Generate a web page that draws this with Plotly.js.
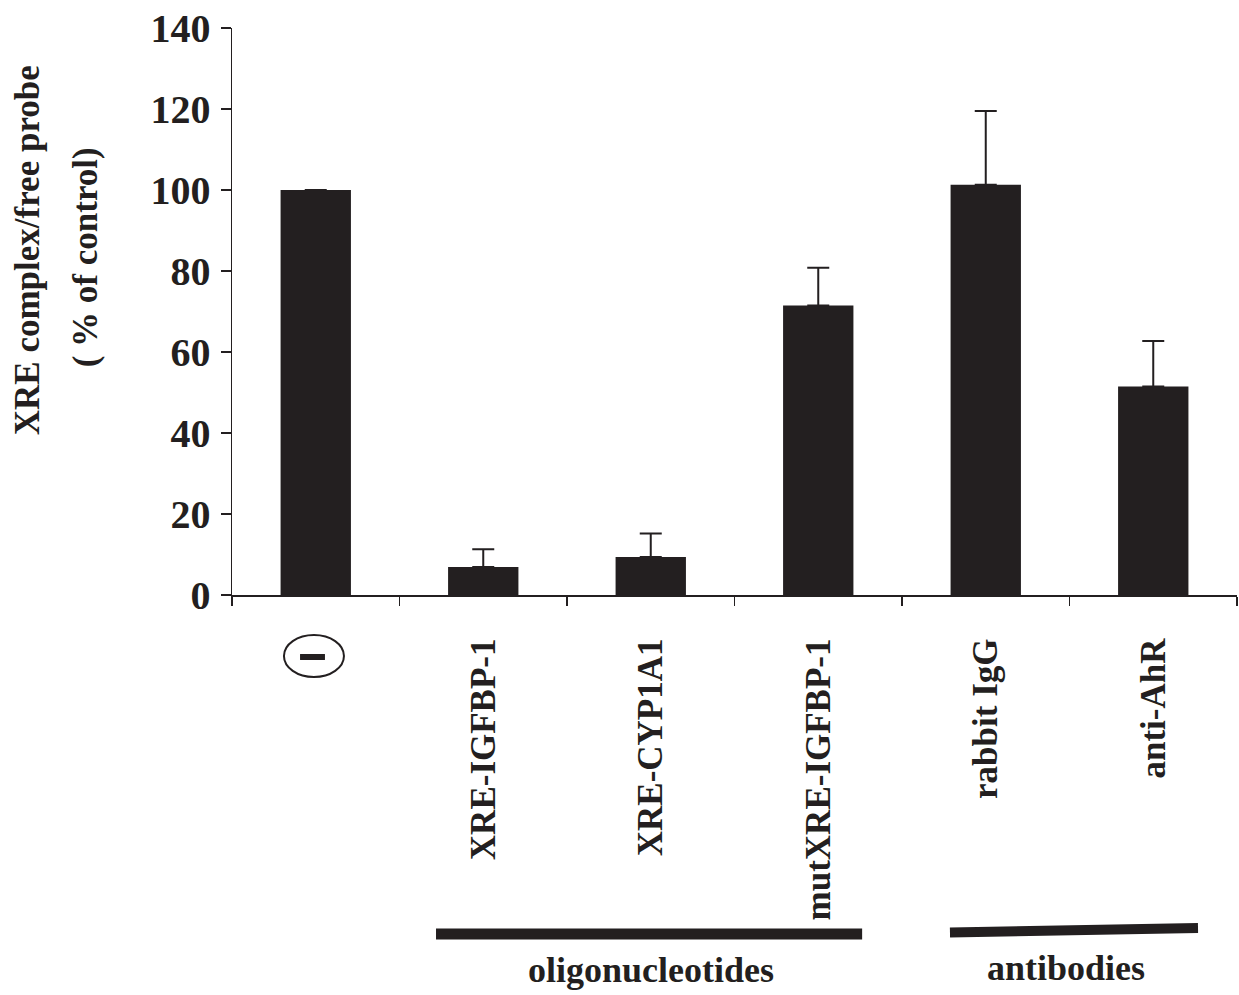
<!DOCTYPE html>
<html>
<head>
<meta charset="utf-8">
<script src="https://cdn.plot.ly/plotly-3.0.1.min.js"></script>
<style>
html,body{margin:0;padding:0;background:#fff;}
#chart{width:1239px;height:995px;}
</style>
</head>
<body>
<div id="chart"></div>
<script>
var categories = ["none", "XRE-IGFBP-1", "XRE-CYP1A1", "mutXRE-IGFBP-1", "rabbit IgG", "anti-AhR"];
var tickLabels = ["", "XRE-IGFBP-1", "XRE-CYP1A1", "mutXRE-IGFBP-1", "rabbit IgG", "anti-AhR"];
var values = [100, 6.9, 9.4, 71.5, 101.3, 51.5];
var errorsPlus = [0, 4.4, 5.8, 9.3, 18.2, 11.2];
var errorsMinus = [0, 0, 0, 0, 0, 0];
var yTicks = [0, 20, 40, 60, 80, 100, 120, 140];
var yTitleLines = ["XRE complex/free probe", "( % of control)"];
var groupLabels = ["oligonucleotides", "antibodies"];

var INK = "#231f20";
var FONT = "Liberation Serif, Times New Roman, serif";

var trace = {
  type: "bar",
  x: categories,
  y: values,
  marker: {color: INK, line: {width: 0}},
  error_y: {
    type: "data",
    symmetric: false,
    array: errorsPlus,
    arrayminus: errorsMinus,
    color: INK,
    thickness: 2,
    width: 11
  },
  hoverinfo: "skip"
};

var layout = {
  width: 1239,
  height: 995,
  margin: {l: 232, r: 2, t: 28, b: 400},
  paper_bgcolor: "#ffffff",
  plot_bgcolor: "#ffffff",
  showlegend: false,
  bargap: 0.58,
  font: {family: FONT, color: INK},
  xaxis: {
    type: "category",
    tickmode: "array",
    tickvals: categories,
    ticktext: tickLabels,
    tickangle: -90,
    tickson: "boundaries",
    ticks: "outside",
    ticklen: 9,
    tickwidth: 1.2,
    tickcolor: INK,
    ticklabelstandoff: 28,
    tickfont: {family: FONT, size: 35, color: INK, weight: "bold"},
    showline: true,
    linecolor: INK,
    linewidth: 1.5,
    showgrid: false,
    zeroline: false,
    fixedrange: true
  },
  yaxis: {
    range: [0, 140],
    tickmode: "array",
    tickvals: yTicks,
    ticktext: yTicks.map(String),
    ticks: "outside",
    ticklen: 10,
    tickwidth: 1.2,
    tickcolor: INK,
    ticklabelstandoff: 2,
    tickfont: {family: FONT, size: 40, color: INK, weight: "bold"},
    showline: true,
    linecolor: INK,
    linewidth: 1.5,
    showgrid: false,
    zeroline: false,
    fixedrange: true
  },
  shapes: [
    // circled minus for the control lane
    {type: "circle", xref: "paper", yref: "paper", x0: 0.0517, x1: 0.1114, y0: -0.0705, y1: -0.1446,
     line: {color: INK, width: 2}, fillcolor: "rgba(0,0,0,0)"},
    {type: "rect", xref: "paper", yref: "paper", x0: 0.0677, x1: 0.0925, y0: -0.1041, y1: -0.1146,
     line: {width: 0}, fillcolor: INK},
    // group bars
    {type: "line", xref: "paper", yref: "paper", x0: 0.2030, x1: 0.6270, y0: -0.5979, y1: -0.5979,
     line: {color: INK, width: 11}},
    {type: "line", xref: "paper", yref: "paper", x0: 0.7144, x1: 0.9612, y0: -0.5952, y1: -0.5873,
     line: {color: INK, width: 10}}
  ],
  annotations: [
    {text: yTitleLines[0], xref: "paper", yref: "paper", x: -0.204, y: 0.608, textangle: -90,
     xanchor: "center", yanchor: "middle", showarrow: false,
     font: {family: FONT, size: 35, color: INK, weight: "bold"}},
    {text: yTitleLines[1], xref: "paper", yref: "paper", x: -0.146, y: 0.596, textangle: -90,
     xanchor: "center", yanchor: "middle", showarrow: false,
     font: {family: FONT, size: 35, color: INK, weight: "bold"}},
    {text: groupLabels[0], xref: "paper", yref: "paper", x: 0.4169, y: -0.662,
     xanchor: "center", yanchor: "middle", showarrow: false,
     font: {family: FONT, size: 36, color: INK, weight: "bold"}},
    {text: groupLabels[1], xref: "paper", yref: "paper", x: 0.8303, y: -0.658,
     xanchor: "center", yanchor: "middle", showarrow: false,
     font: {family: FONT, size: 36, color: INK, weight: "bold"}}
  ]
};

Plotly.newPlot("chart", [trace], layout, {displayModeBar: false, staticPlot: true});
</script>
</body>
</html>
